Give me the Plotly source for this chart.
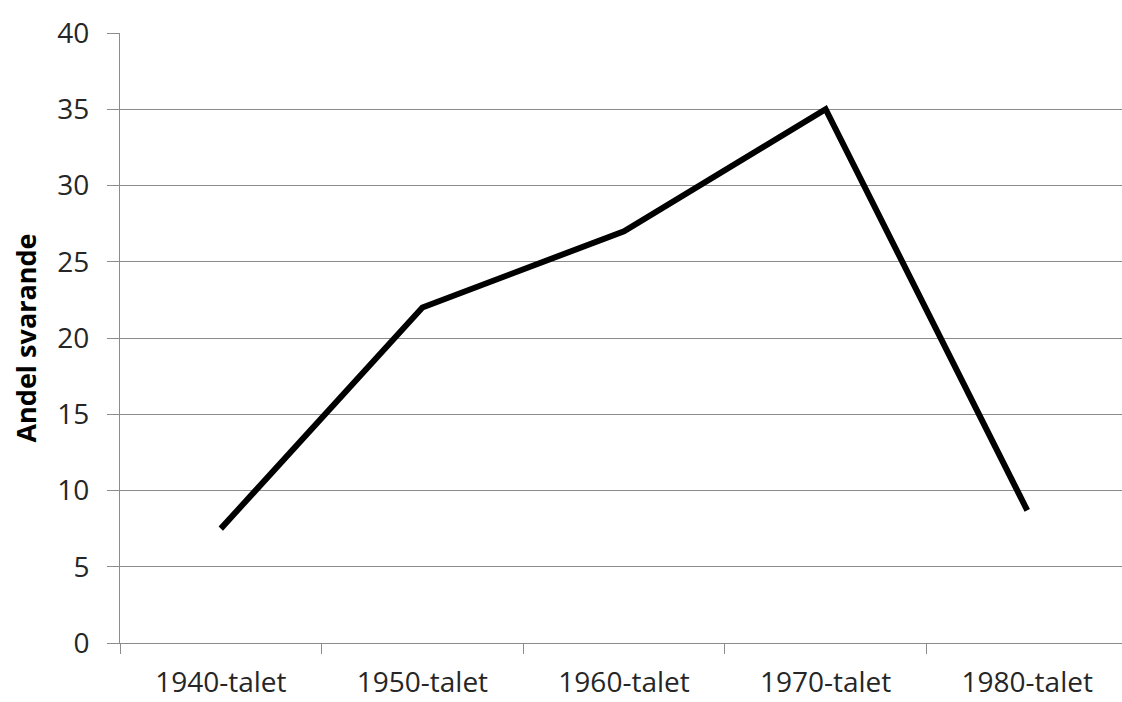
import plotly.graph_objects as go

categories = ["1940-talet", "1950-talet", "1960-talet", "1970-talet", "1980-talet"]
values = [7.5, 22.0, 27.0, 35.0, 8.7]
y_ticks = [0, 5, 10, 15, 20, 25, 30, 35, 40]

fig = go.Figure()
fig.add_trace(go.Scatter(
    x=categories, y=values, mode="lines",
    line=dict(color="black", width=6),
    hoverinfo="skip",
))

font_family = "Open Sans, Liberation Sans, sans-serif"
fig.update_layout(
    width=1122, height=702,
    margin=dict(l=120, r=0, t=33, b=59),
    paper_bgcolor="white", plot_bgcolor="white",
    showlegend=False,
    font=dict(family=font_family, color="#262626"),
    xaxis=dict(
        type="category",
        range=[-0.5, 4.47],
        tickson="boundaries",
        ticks="outside", ticklen=10, tickcolor="#8c8c8c", tickwidth=1,
        showgrid=False,
        showline=True, linecolor="#8c8c8c", linewidth=1,
        tickfont=dict(size=28, family=font_family, color="#262626"),
        ticklabelstandoff=14,
        zeroline=False,
        automargin=False,
    ),
    yaxis=dict(
        range=[0, 40],
        tickvals=y_ticks,
        ticks="outside", ticklen=12, tickcolor="#8c8c8c", tickwidth=1,
        showgrid=True, gridcolor="#8c8c8c", gridwidth=1,
        showline=True, linecolor="#8c8c8c", linewidth=1,
        zeroline=False,
        automargin=False,
        tickfont=dict(size=28, family=font_family, color="#262626"),
        ticklabelstandoff=12,
        title=dict(text="<b>Andel svarande</b>", font=dict(size=27, family=font_family, color="black"), standoff=12),
    ),
)

fig.write_html("out.html", config={"displayModeBar": False},
               post_script="document.body.style.margin='0';")
